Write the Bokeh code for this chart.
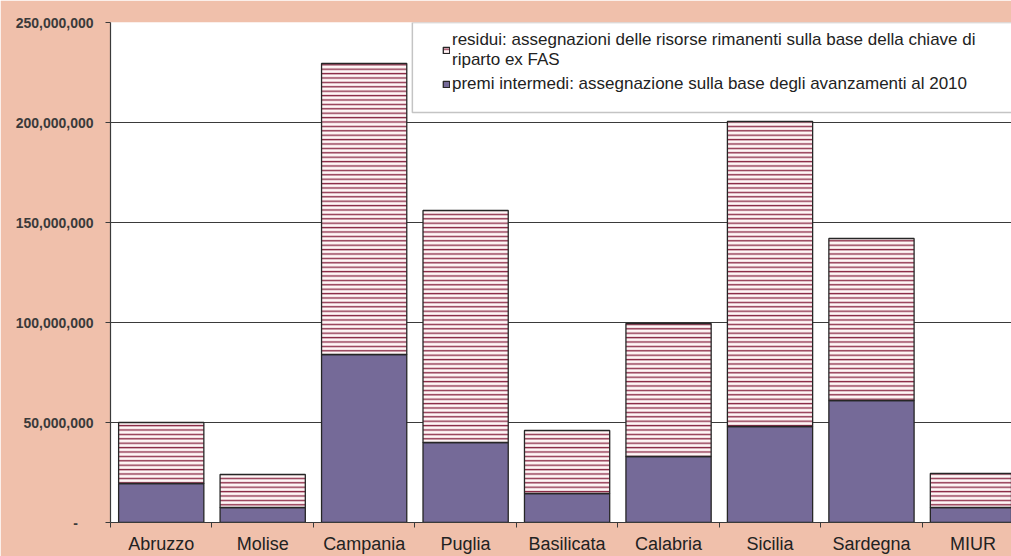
import numpy as np
from bokeh.plotting import figure
from bokeh.models import (ColumnDataSource, Range1d, FixedTicker, NumeralTickFormatter,
                          Legend, LegendItem, BoxAnnotation)
from bokeh.core.properties import value
from bokeh.embed import file_html
from bokeh.resources import INLINE

categories = ["Abruzzo", "Molise", "Campania", "Puglia", "Basilicata",
              "Calabria", "Sicilia", "Sardegna", "MIUR"]
premi = [19.5e6, 7.5e6, 84e6, 40e6, 14.5e6, 33e6, 48e6, 61e6, 7.5e6]
residui = [30.5e6, 16.5e6, 145.5e6, 116e6, 31.5e6, 66.5e6, 152.5e6, 81e6, 17e6]
y_ticks = [0, 50e6, 100e6, 150e6, 200e6, 250e6]
legend_labels = [
    "residui: assegnazioni delle risorse rimanenti sulla base della chiave di\nriparto ex FAS",
    "premi intermedi: assegnazione sulla base degli avanzamenti al 2010",
]

FONT = "Liberation Sans"
x = np.arange(len(categories)) + 0.5
src = ColumnDataSource(dict(x=x, premi=premi, residui=residui))

p = figure(width=1011, height=556, output_backend="svg", toolbar_location=None,
           x_range=Range1d(0, 8.88), y_range=Range1d(0, 250e6),
           min_border_left=110, min_border_right=0, min_border_top=22,
           min_border_bottom=34)
p.border_fill_color = "#F0C0AB"
p.background_fill_color = "white"
p.outline_line_color = None

# grid
p.xgrid.visible = False
p.ygrid.ticker = FixedTicker(ticks=y_ticks)
p.ygrid.grid_line_color = "#3a3a3a"
p.ygrid.grid_line_width = 1.2

# y axis
p.yaxis.ticker = FixedTicker(ticks=y_ticks)
p.yaxis.formatter = NumeralTickFormatter(format="0,0")
p.yaxis.major_label_overrides = {0: "-\u00a0\u00a0\u00a0\u00a0"}
p.yaxis.major_label_text_font = FONT
p.yaxis.major_label_text_font_style = "bold"
p.yaxis.major_label_text_font_size = "14px"
p.yaxis.major_label_text_color = "#3a3a3a"
p.yaxis.major_tick_out = 5
p.yaxis.major_tick_in = 0
p.yaxis.minor_tick_out = 0
p.yaxis.minor_tick_in = 0
p.yaxis.axis_line_color = "#3a3a3a"
p.yaxis.axis_line_width = 1.2
p.yaxis.major_tick_line_color = "#3a3a3a"
p.yaxis.major_label_standoff = 12

# x axis: labels at centres, tick marks at boundaries
p.xaxis.ticker = FixedTicker(ticks=list(x), minor_ticks=list(range(len(categories) + 1)))
p.xaxis.major_label_overrides = {float(xi): c for xi, c in zip(x, categories)}
p.xaxis.major_label_text_font = FONT
p.xaxis.major_label_text_font_size = "18px"
p.xaxis.major_label_text_color = "#222222"
p.xaxis.major_tick_out = 0
p.xaxis.major_tick_in = 0
p.xaxis.minor_tick_out = 5
p.xaxis.minor_tick_in = 0
p.xaxis.minor_tick_line_color = "#3a3a3a"
p.xaxis.axis_line_color = "#3a3a3a"
p.xaxis.axis_line_width = 1.2
p.xaxis.major_label_standoff = 6

# legend frame
box = BoxAnnotation(left=2.975, right=9.5, bottom=205e6, top=250e6,
                    fill_color="white", fill_alpha=1.0,
                    line_color="#3a3a3a", line_width=1.5)
p.add_layout(box)

renderers = p.vbar_stack(["premi", "residui"], x="x", width=0.84, source=src,
                         fill_color=["#756A98", "#FFF6F6"],
                         line_color="#262626", line_width=1.3,
                         hatch_pattern=[" ", "horizontal_line"],
                         hatch_color="#8B2A46", hatch_scale=4.4, hatch_weight=1.4)

legend = Legend(items=[
    LegendItem(label=value(legend_labels[0]), renderers=[renderers[1]]),
    LegendItem(label=value(legend_labels[1]), renderers=[renderers[0]]),
], location=(332, 428))
legend.border_line_color = None
legend.background_fill_alpha = 0
legend.padding = 0
legend.margin = 0
legend.spacing = 4
legend.glyph_width = 8
legend.glyph_height = 8
legend.label_standoff = 2
legend.label_text_font = FONT
legend.label_text_font_size = "17px"
legend.label_text_color = "#222222"
p.add_layout(legend)

open("out.html", "w").write(file_html(p, INLINE))
